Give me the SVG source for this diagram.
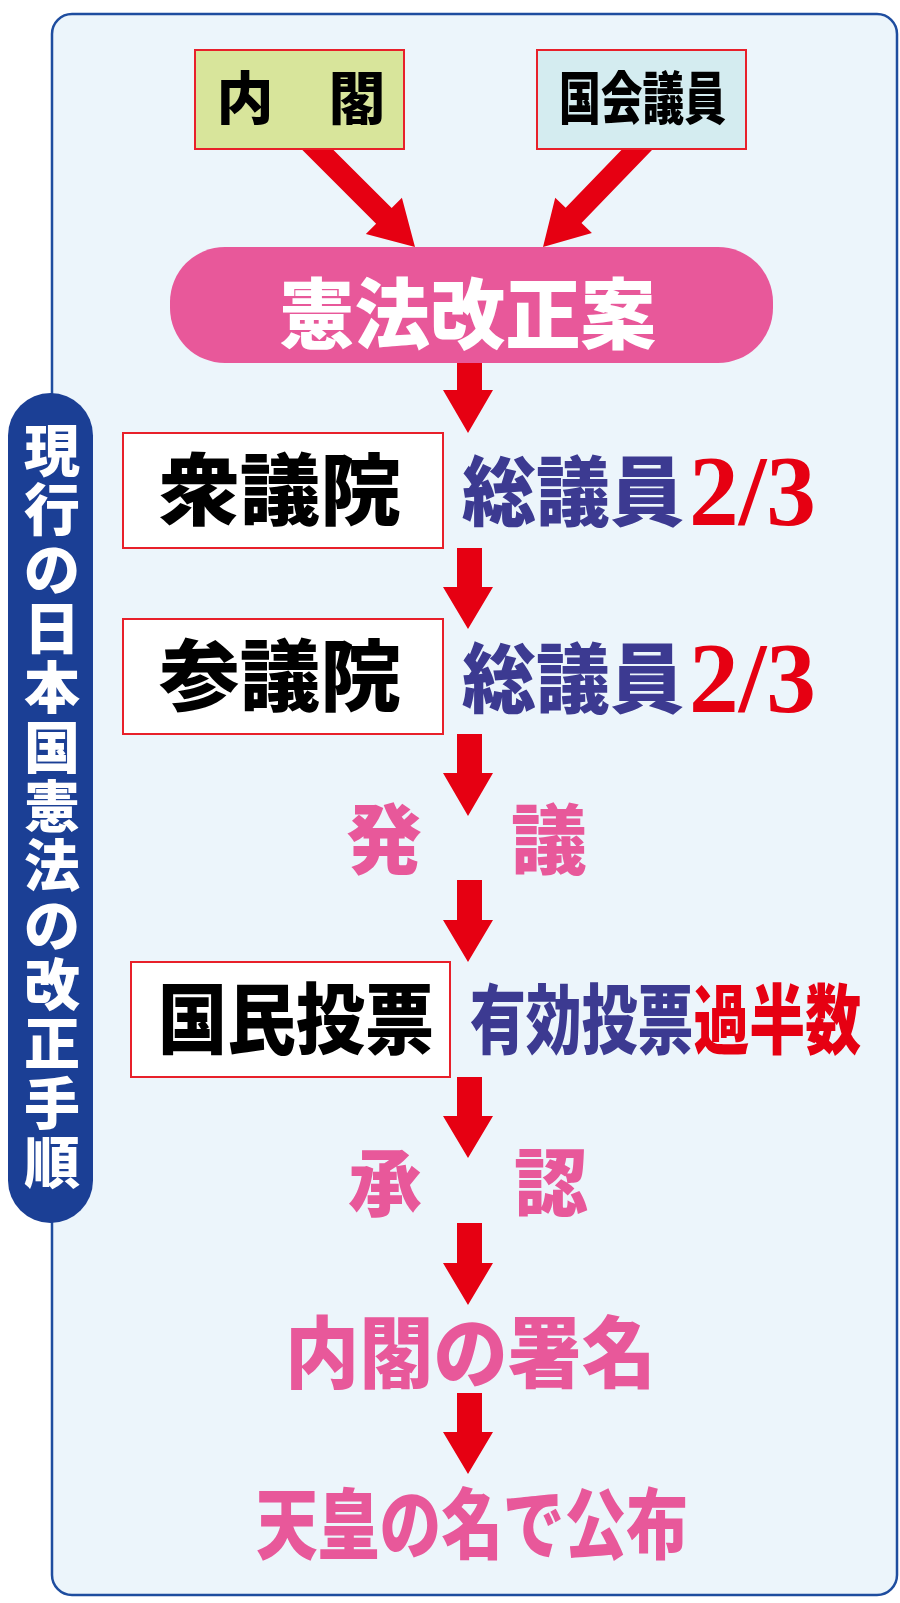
<svg xmlns="http://www.w3.org/2000/svg" width="900" height="1603" viewBox="0 0 900 1603">
<style>
.arrow{fill:#e60012}
.box{stroke:#e8202a;stroke-width:2}
.jp{font-family:"Noto Sans CJK JP","Noto Sans CJK SC",sans-serif;font-weight:900}
.blk{fill:#000}
.wht{fill:#fff}
.pnk{fill:#e8589a}
.nvy{fill:#3c3a91}
.red{fill:#e60012}
.num{font-family:"Liberation Serif",serif;font-weight:bold;fill:#e60012}
</style>
<rect width="900" height="1603" fill="#ffffff"/>
<g id="panel">
<rect x="52" y="14" width="845" height="1581" rx="20" ry="20" fill="#ecf5fb" stroke="#1e4d9f" stroke-width="2.5"/>
</g>
<g id="title">
<rect x="8" y="393" width="85" height="830" rx="42.5" ry="42.5" fill="#1b3f95"/>
<text class="jp wht" font-size="56" text-anchor="middle" x="52 52 52 52 52 52 52 52 52 52 52 52 52" y="471 530 590 649 708 768 827 886 946 1005 1064 1124 1183">現行の日本国憲法の改正手順</text>
</g>
<g id="connectors">
<path class="arrow" d="M-11,-150 H11 V-44 H25.5 L0,0 L-25.5,-44 H-11 Z" transform="translate(415,247) rotate(-45)"/>
<path class="arrow" d="M-11,-150 H11 V-44 H25.5 L0,0 L-25.5,-44 H-11 Z" transform="translate(543,247) rotate(44)"/>
<path class="arrow" d="M457,360 H482 V390 H493 L468,433 L443,390 H457 Z"/>
<path class="arrow" d="M457,548 H482 V587 H493 L468,629 L443,587 H457 Z"/>
<path class="arrow" d="M457,734 H482 V773 H493 L468,816 L443,773 H457 Z"/>
<path class="arrow" d="M457,880 H482 V920 H493 L468,962 L443,920 H457 Z"/>
<path class="arrow" d="M457,1077 H482 V1116 H493 L468,1158 L443,1116 H457 Z"/>
<path class="arrow" d="M457,1223 H482 V1263 H493 L468,1305 L443,1263 H457 Z"/>
<path class="arrow" d="M457,1393 H482 V1432 H493 L468,1474 L443,1432 H457 Z"/>
</g>
<g id="naikaku">
<rect class="box" x="195" y="50" width="209" height="99" fill="#d8e59b"/>
<text class="jp blk" font-size="57" text-anchor="middle" x="245" y="119">内</text>
<text class="jp blk" font-size="57" text-anchor="middle" x="357" y="119">閣</text>
</g>
<g id="kokkaigiin">
<rect class="box" x="537" y="50" width="209" height="99" fill="#d4ecf0"/>
<text class="jp blk" font-size="57" x="559" y="119" textLength="167" lengthAdjust="spacingAndGlyphs">国会議員</text>
</g>
<g id="kenpo-kaisei-an">
<rect x="170" y="247" width="603" height="116" rx="55" ry="55" fill="#e8589a"/>
<text class="jp wht" font-size="77" x="279" y="343" textLength="377" lengthAdjust="spacingAndGlyphs">憲法改正案</text>
</g>
<g id="shugiin">
<rect class="box" x="123" y="433" width="320" height="115" fill="#ffffff"/>
<text class="jp blk" font-size="78" x="159" y="519" textLength="242" lengthAdjust="spacingAndGlyphs">衆議院</text>
<text class="jp nvy" font-size="76" x="462" y="520" textLength="222" lengthAdjust="spacingAndGlyphs">総議員</text>
<text class="num" font-size="100" x="689" y="524" textLength="127" lengthAdjust="spacingAndGlyphs">2/3</text>
</g>
<g id="sangiin">
<rect class="box" x="123" y="619" width="320" height="115" fill="#ffffff"/>
<text class="jp blk" font-size="78" x="159" y="705" textLength="242" lengthAdjust="spacingAndGlyphs">参議院</text>
<text class="jp nvy" font-size="76" x="462" y="707" textLength="222" lengthAdjust="spacingAndGlyphs">総議員</text>
<text class="num" font-size="100" x="689" y="711" textLength="127" lengthAdjust="spacingAndGlyphs">2/3</text>
</g>
<g id="hatsugi">
<text class="jp pnk" font-size="76" text-anchor="middle" x="384" y="868">発</text>
<text class="jp pnk" font-size="76" text-anchor="middle" x="549" y="868">議</text>
</g>
<g id="kokumin-tohyo">
<rect class="box" x="131" y="962" width="319" height="115" fill="#ffffff"/>
<text class="jp blk" font-size="77" x="158" y="1048" textLength="276" lengthAdjust="spacingAndGlyphs">国民投票</text>
<text class="jp" font-size="76" transform="translate(470,1048) scale(0.735,1)"><tspan class="nvy">有効投票</tspan><tspan class="red">過半数</tspan></text>
</g>
<g id="shonin">
<text class="jp pnk" font-size="74" text-anchor="middle" x="385" y="1210">承</text>
<text class="jp pnk" font-size="74" text-anchor="middle" x="551" y="1210">認</text>
</g>
<g id="naikaku-shomei">
<text class="jp pnk" font-size="78" x="285" y="1382" textLength="371" lengthAdjust="spacingAndGlyphs">内閣の署名</text>
</g>
<g id="tenno-kofu">
<text class="jp pnk" font-size="77" x="256" y="1553" textLength="432" lengthAdjust="spacingAndGlyphs">天皇の名で公布</text>
</g>
</svg>
